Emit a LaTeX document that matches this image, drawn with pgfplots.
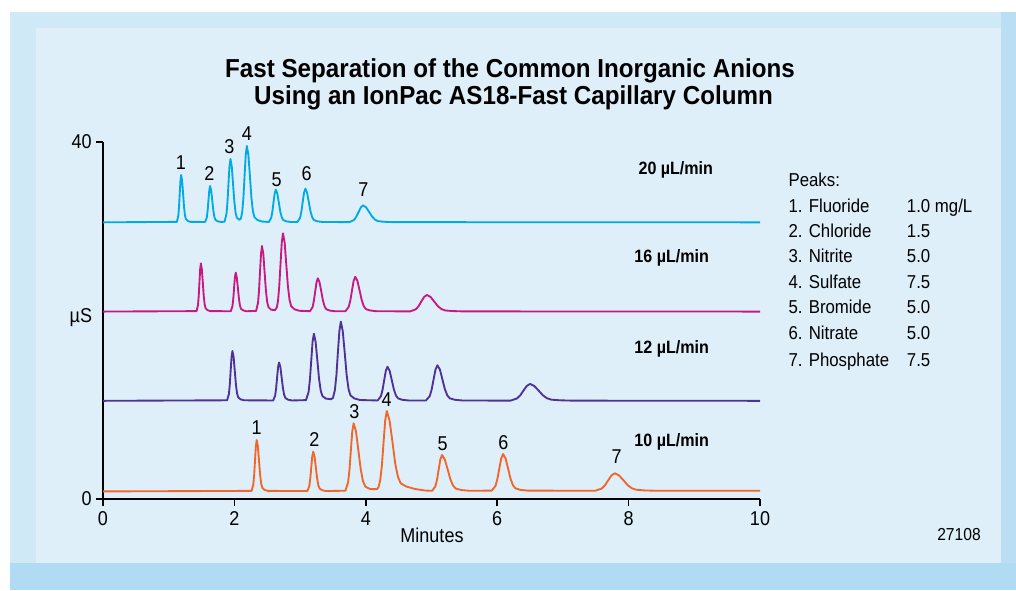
\documentclass[border=0pt]{standalone}
\usepackage{pgfplots}
\pgfplotsset{compat=1.18}
\usepackage{fontspec}
\setmainfont{Liberation Sans}[FakeStretch=0.9]
\newfontfamily\titlefont{Liberation Sans}[FakeStretch=0.93]
\definecolor{ccyan}{RGB}{0,170,230}
\definecolor{cmag}{RGB}{200,25,130}
\definecolor{cpur}{RGB}{80,50,150}
\definecolor{corg}{RGB}{242,102,40}
\definecolor{bgout}{RGB}{208,233,247}
\definecolor{bgbot}{RGB}{176,219,243}
\definecolor{bgin}{RGB}{222,239,249}
\newcommand{\PL}[3]{\node[inner sep=0pt,font=\fontsize{15}{18}\selectfont] at (#1,{590-#2}) {#3};}
\newcommand{\LG}[3]{\node[inner sep=0pt,anchor=base west,font=\fontsize{14}{17}\selectfont] at (#1,{590-#2}) {#3};}
\newcommand{\FL}[3]{\node[inner sep=0pt,anchor=base,font=\fontsize{13.4}{16}\selectfont\bfseries] at (#1,{590-#2}) {#3};}
\begin{document}
\begin{tikzpicture}
\begin{scope}[x=0.75pt,y=0.75pt]
\useasboundingbox (0,0) rectangle (1016,590);
\fill[white] (0,0) rectangle (1016,590);
\fill[bgout] (10,0) rectangle (1016,578);
\fill[bgbot] (10,0) rectangle (1016,27);
\fill[bgbot!70!bgout] (1001,27) rectangle (1016,578);
\fill[bgin] (36,27) rectangle (1001,562);
\end{scope}
\begin{axis}[
  scale only axis, width=492.75pt, height=267.75pt,
  at={(77.25pt,68.25pt)}, anchor=south west,
  xmin=0, xmax=10, ymin=0, ymax=40,
  axis x line*=bottom, axis y line*=left,
  axis line style={line width=1.4pt, black},
  xtick={0,2,4,6,8,10}, ytick={0,40},
  tick align=outside, major tick length=5.25pt,
  tick style={line width=1.2pt, black},
  /pgf/number format/assume math mode=true,
  tick label style={font=\fontsize{15}{18}\selectfont},
  xticklabel style={inner sep=0pt, yshift=-4pt},
  yticklabel style={inner sep=0pt, xshift=-3pt},
  clip=false,
  every axis plot/.append style={line width=1.4pt, line join=round},
]
% 20 uL/min
\addplot[ccyan] coordinates {(0,31.0)
(1.124,31.05)(1.146,31.72)(1.157,32.72)(1.168,34.22)(1.179,35.67)(1.19,36.3)(1.204,35.66)(1.219,34.23)(1.233,32.75)(1.247,31.80)(1.262,31.37)(1.29,31.16)(1.333,31.05)
(1.555,31.04)(1.58,31.55)(1.593,32.32)(1.605,33.47)(1.618,34.59)(1.63,35.07)(1.646,34.58)(1.663,33.48)(1.679,32.34)(1.695,31.61)(1.711,31.28)(1.744,31.12)(1.793,31.04)
(1.85,31.07)(1.88,31.96)(1.895,33.31)(1.91,35.31)(1.925,37.26)(1.94,38.1)(1.96,37.25)(1.979,35.33)(1.999,33.34)(2.018,32.07)(2.038,31.50)(2.077,31.28)
(2.10,31.45)(2.12,32.2)(2.138,33.83)(2.155,36.24)(2.173,38.59)(2.19,39.55)(2.213,38.52)(2.236,36.22)(2.258,33.82)(2.281,32.28)(2.304,31.60)(2.349,31.26)(2.418,31.09)
(2.525,31.04)(2.56,31.49)(2.578,32.19)(2.595,33.22)(2.613,34.23)(2.63,34.66)(2.653,34.22)(2.676,33.23)(2.698,32.21)(2.721,31.55)(2.744,31.26)(2.789,31.11)(2.858,31.04)
(2.96,31.04)(3.0,31.51)(3.02,32.23)(3.04,33.29)(3.06,34.33)(3.08,34.77)(3.106,34.32)(3.132,33.30)(3.158,32.24)(3.184,31.57)(3.21,31.26)(3.262,31.11)(3.34,31.04)
(3.75,31.02)(3.82,31.26)(3.855,31.62)(3.89,32.15)(3.925,32.68)(3.96,32.9)(4.006,32.67)(4.051,32.16)(4.097,31.63)(4.142,31.29)(4.188,31.13)(4.279,31.06)(4.415,31.02)
(10,31.0)};
% 16 uL/min
\addplot[cmag] coordinates {(0,21.0)
(1.424,21.05)(1.446,21.73)(1.457,22.76)(1.468,24.28)(1.479,25.76)(1.49,26.4)(1.504,25.75)(1.519,24.29)(1.533,22.78)(1.547,21.81)(1.562,21.38)(1.59,21.16)(1.633,21.05)
(1.945,21.04)(1.97,21.59)(1.983,22.42)(1.995,23.65)(2.008,24.85)(2.02,25.36)(2.036,24.84)(2.053,23.66)(2.069,22.44)(2.085,21.65)(2.101,21.31)(2.134,21.13)(2.183,21.04)
(2.33,21.07)(2.36,21.99)(2.375,23.39)(2.39,25.46)(2.405,27.48)(2.42,28.35)(2.44,27.47)(2.459,25.48)(2.479,23.43)(2.498,22.10)(2.518,21.51)(2.557,21.22)(2.615,21.15)
(2.645,21.45)(2.664,22.2)(2.683,23.87)(2.702,26.33)(2.721,28.74)(2.74,29.77)(2.765,28.72)(2.789,26.35)(2.814,23.89)(2.839,22.32)(2.864,21.61)(2.913,21.26)(2.987,21.09)
(3.15,21.04)(3.19,21.5)(3.21,22.21)(3.23,23.26)(3.25,24.29)(3.27,24.73)(3.296,24.28)(3.322,23.28)(3.348,22.23)(3.374,21.56)(3.4,21.26)(3.452,21.11)(3.53,21.04)
(3.69,21.04)(3.74,21.53)(3.765,22.27)(3.79,23.37)(3.815,24.44)(3.84,24.9)(3.873,24.43)(3.905,23.38)(3.938,22.29)(3.97,21.59)(4.003,21.27)(4.068,21.12)(4.165,21.04)
(4.675,21.02)(4.76,21.25)(4.803,21.6)(4.845,22.13)(4.888,22.64)(4.93,22.86)(4.985,22.64)(5.041,22.13)(5.096,21.61)(5.151,21.28)(5.206,21.13)(5.317,21.06)(5.483,21.02)
(10,21.0)};
% 12 uL/min
\addplot[cpur] coordinates {(0,11.0)
(1.889,11.06)(1.916,11.75)(1.93,12.81)(1.943,14.39)(1.957,15.92)(1.97,16.58)(1.988,15.91)(2.005,14.4)(2.023,12.84)(2.04,11.84)(2.058,11.39)(2.093,11.17)(2.146,11.06)
(2.59,11.04)(2.62,11.58)(2.635,12.4)(2.65,13.61)(2.665,14.79)(2.68,15.3)(2.70,14.78)(2.719,13.62)(2.739,12.42)(2.758,11.65)(2.778,11.3)(2.817,11.13)(2.875,11.04)
(3.09,11.08)(3.13,12.02)(3.15,13.44)(3.17,15.56)(3.19,17.63)(3.21,18.52)(3.236,17.62)(3.262,15.59)(3.288,13.48)(3.314,12.13)(3.34,11.53)(3.392,11.25)(3.47,11.18)
(3.50,11.32)(3.53,12.22)(3.553,13.89)(3.575,16.39)(3.598,18.83)(3.62,19.87)(3.649,18.81)(3.679,16.41)(3.708,13.93)(3.737,12.33)(3.766,11.62)(3.825,11.27)(3.913,11.09)
(4.18,11.04)(4.23,11.52)(4.255,12.24)(4.28,13.32)(4.305,14.37)(4.33,14.82)(4.363,14.36)(4.395,13.33)(4.428,12.26)(4.46,11.57)(4.493,11.27)(4.558,11.11)(4.655,11.04)
(4.916,11.04)(4.974,11.54)(5.003,12.29)(5.032,13.42)(5.061,14.51)(5.09,14.98)(5.128,14.5)(5.165,13.43)(5.203,12.31)(5.241,11.6)(5.279,11.28)(5.354,11.12)(5.467,11.04)
(6.2,11.02)(6.3,11.26)(6.35,11.61)(6.4,12.15)(6.45,12.67)(6.5,12.89)(6.565,12.66)(6.63,12.15)(6.695,11.62)(6.76,11.28)(6.825,11.13)(6.955,11.06)(7.15,11.02)
(10,11.0)};
% 10 uL/min
\addplot[corg] coordinates {(0,0.85)
(2.262,0.91)(2.288,1.63)(2.301,2.72)(2.314,4.35)(2.327,5.93)(2.34,6.61)(2.357,5.92)(2.374,4.36)(2.391,2.75)(2.408,1.71)(2.425,1.25)(2.458,1.02)(2.509,0.91)
(3.11,0.89)(3.14,1.45)(3.155,2.3)(3.17,3.55)(3.185,4.77)(3.20,5.3)(3.22,4.77)(3.239,3.56)(3.259,2.32)(3.278,1.52)(3.298,1.16)(3.337,0.98)(3.395,0.89)
(3.689,0.93)(3.731,1.88)(3.752,3.33)(3.773,5.48)(3.794,7.58)(3.815,8.48)(3.851,7.56)(3.886,5.5)(3.922,3.37)(3.957,1.99)(3.993,1.38)(4.063,1.12)(4.17,1.1)
(4.195,1.35)(4.22,2.12)(4.245,3.78)(4.27,6.31)(4.295,8.79)(4.32,9.86)(4.362,8.78)(4.405,6.44)(4.447,4.01)(4.489,2.48)(4.531,1.76)(4.616,1.4)(4.743,1.13)(4.9,0.95)
(5.01,0.92)(5.06,1.43)(5.085,2.2)(5.11,3.34)(5.135,4.45)(5.16,4.93)(5.202,4.44)(5.245,3.35)(5.287,2.22)(5.329,1.49)(5.371,1.16)(5.456,1.0)(5.583,0.92)
(5.916,0.94)(5.974,1.46)(6.003,2.25)(6.032,3.41)(6.061,4.55)(6.09,5.04)(6.128,4.54)(6.165,3.43)(6.203,2.27)(6.241,1.52)(6.279,1.19)(6.354,1.02)(6.467,0.94)
(7.49,0.92)(7.59,1.17)(7.64,1.54)(7.69,2.1)(7.74,2.65)(7.79,2.88)(7.855,2.64)(7.92,2.11)(7.985,1.55)(8.05,1.2)(8.115,1.04)(8.245,0.96)(8.44,0.92)
(10,0.92)};
\end{axis}
\begin{scope}[x=0.75pt,y=0.75pt]
\node[anchor=base,inner sep=0pt,font=\fontsize{19.5}{22}\selectfont\titlefont\bfseries] at (510,{590-77.7}) {Fast Separation of the Common Inorganic Anions};
\node[anchor=base,inner sep=0pt,font=\fontsize{19.5}{22}\selectfont\titlefont\bfseries] at (513.5,{590-104.3}) {Using an IonPac AS18-Fast Capillary Column};
% peak labels, 20 uL/min
\PL{181}{162.7}{1}\PL{209.3}{174}{2}\PL{229.3}{146.7}{3}\PL{247}{134}{4}\PL{276.7}{179.3}{5}\PL{306.7}{173.3}{6}\PL{363.3}{189.3}{7}
% peak labels, 10 uL/min
\PL{256.7}{427.3}{1}\PL{314.3}{440}{2}\PL{354.3}{411.7}{3}\PL{386.7}{400}{4}\PL{442.5}{443.5}{5}\PL{503.3}{442.7}{6}\PL{616.7}{456.7}{7}
% flow rates
\FL{675.8}{175}{20 µL/min}
\FL{671.7}{262.7}{16 µL/min}
\FL{671.7}{353.3}{12 µL/min}
\FL{671.7}{446.7}{10 µL/min}
% axis texts
\node[anchor=east,inner sep=0pt,font=\fontsize{15}{18}\selectfont] at (92.3,{590-318}) {µS};
\node[inner sep=0pt,font=\fontsize{15}{18}\selectfont] at (432,{590-535}) {Minutes};
\node[inner sep=0pt,font=\fontsize{13}{16}\selectfont] at (959,{590-535}) {27108};
% legend
\LG{788.3}{187}{Peaks:}
\LG{788.3}{212}{1. Fluoride}\LG{906.7}{212}{1.0 mg/L}
\LG{788.3}{237}{2. Chloride}\LG{906.7}{237}{1.5}
\LG{788.3}{262.7}{3. Nitrite}\LG{906.7}{262.7}{5.0}
\LG{788.3}{288.7}{4. Sulfate}\LG{906.7}{288.7}{7.5}
\LG{788.3}{313.7}{5. Bromide}\LG{906.7}{313.7}{5.0}
\LG{788.3}{339.3}{6. Nitrate}\LG{906.7}{339.3}{5.0}
\LG{788.3}{366}{7. Phosphate}\LG{906.7}{366}{7.5}
\end{scope}
\end{tikzpicture}
\end{document}
